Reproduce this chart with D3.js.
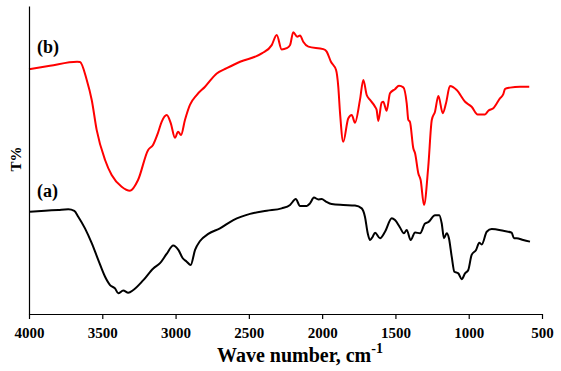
<!DOCTYPE html>
<html>
<head>
<meta charset="utf-8">
<script src="https://cdn.jsdelivr.net/npm/d3@7"></script>
<style>
  html, body { margin: 0; padding: 0; background: #fff; }
  svg { display: block; }
</style>
</head>
<body>
<svg id="chart" width="561" height="371"></svg>
<script>
// ---- data ----
const xTicks = [4000, 3500, 3000, 2500, 2000, 1500, 1000, 500];
const seriesNames = ["(a)", "(b)"];

// sample (b), red: wavenumber (cm-1) and transmittance (arbitrary, offset)
const waveB = [4000,3857,3672,3652,3606,3572,3538,3481,3436,3368,3311,3256,3188,3154,3120,3095,3060,3033,3004,2983,2963,2936,2902,2856,2799,2719,2651,2560,2412,2344,2310,2276,2242,2219,2197,2170,2151,2129,2094,1992,1969,1940,1905,1890,1878,1856,1822,1798,1776,1742,1719,1696,1673,1639,1628,1617,1594,1583,1560,1537,1503,1476,1446,1423,1412,1401,1378,1366,1344,1328,1305,1276,1252,1230,1207,1177,1155,1128,1082,1025,980,939,889,866,832,787,764,752,718,650,587];
const transB = [79.5,80.6,81.9,81.8,76.0,69.5,59.7,50.0,45.1,41.3,40.0,43.5,53.2,54.9,58.8,62.4,64.6,62.0,57.2,59.2,58.1,63.0,67.9,71.1,73.8,78.1,79.8,81.9,84.6,87.3,90.6,85.9,86.3,87.3,91.5,90.0,90.4,88.4,86.8,86.0,85.2,81.9,79.2,73.8,65.3,55.9,63.5,64.6,62.1,69.5,76.0,71.1,69.5,67.3,66.2,62.7,68.6,68.9,66.0,71.7,73.0,74.1,73.6,68.4,63.0,62.4,53.8,52.2,45.7,43.5,35.4,47.8,63.0,65.7,70.8,65.2,68.4,74.0,72.7,68.9,67.3,64.8,64.8,66.0,66.8,70.0,71.4,73.1,73.5,73.8,73.8];

// sample (a), black
const waveA = [3993,3891,3800,3732,3691,3664,3618,3572,3527,3481,3447,3413,3391,3357,3323,3288,3220,3152,3106,3061,3016,2981,2951,2924,2897,2867,2833,2777,2697,2606,2492,2378,2276,2219,2180,2151,2105,2083,2056,2026,2003,1974,1935,1856,1776,1730,1708,1689,1673,1655,1639,1605,1571,1525,1503,1469,1442,1423,1396,1366,1332,1298,1276,1230,1201,1184,1169,1150,1135,1116,1098,1071,1048,1025,1003,980,950,928,911,877,843,764,707,691,673,628,582];
const transA = [33.2,33.5,33.8,34.0,33.5,31.6,27.8,23.0,17.5,12.1,9.4,8.3,6.7,7.6,6.9,7.8,11.0,14.8,16.5,19.5,22.2,20.8,18.1,17.0,15.9,20.8,23.7,26.0,27.8,30.5,32.5,33.5,34.3,35.4,37.3,35.1,35.1,35.9,37.8,37.2,37.3,36.5,35.7,35.4,35.2,34.3,31.6,26.2,24.0,25.1,26.4,24.6,26.7,31.1,30.5,28.1,26.2,27.3,24.0,26.5,26.2,29.4,29.8,32.1,32.1,29.4,24.6,26.2,24.6,18.6,13.7,13.2,11.3,13.2,14.3,19.2,20.8,23.1,22.6,26.7,27.6,27.0,26.4,24.6,24.6,24.0,23.5];

// ---- drawing ----
const svg = d3.select("#chart");
const x = d3.scaleLinear().domain([4000, 500]).range([29, 542]);
const y = d3.scaleLinear().domain([0, 100]).range([314, 6]);

const font = "'Liberation Serif', 'Times New Roman', serif";

const line = d3.line()
  .x(d => x(d[0]))
  .y(d => y(d[1]))
  .curve(d3.curveMonotoneX);

const dataA = waveA.map((w, i) => [w, transA[i]]);
const dataB = waveB.map((w, i) => [w, transB[i]]);

svg.append("path").datum(dataB)
  .attr("fill", "none").attr("stroke", "#ff0000").attr("stroke-width", 2)
  .attr("stroke-linejoin", "round")
  .attr("d", line);

svg.append("path").datum(dataA)
  .attr("fill", "none").attr("stroke", "#000000").attr("stroke-width", 2)
  .attr("stroke-linejoin", "round")
  .attr("d", line);

// x axis
const xAxis = d3.axisBottom(x)
  .tickValues(xTicks)
  .tickFormat(d3.format("d"))
  .tickSize(5)
  .tickSizeOuter(0)
  .tickPadding(8);

const gx = svg.append("g").attr("transform", "translate(0,314)").call(xAxis);
gx.select(".domain").attr("stroke", "#000").attr("stroke-width", 1.2);
gx.selectAll(".tick line").attr("stroke", "#000").attr("stroke-width", 1.2);
gx.selectAll(".tick text")
  .attr("fill", "#000")
  .style("font-family", font)
  .style("font-weight", "bold")
  .style("font-size", "15px");

// y axis (no ticks)
const yAxis = d3.axisLeft(y).tickValues([]).tickSizeOuter(0);
const gy = svg.append("g").attr("transform", "translate(29,0)").call(yAxis);
gy.select(".domain").attr("stroke", "#000").attr("stroke-width", 1.2);

// axis titles
const xt = svg.append("text")
  .attr("x", 217).attr("y", 362)
  .style("font-family", font).style("font-weight", "bold").style("font-size", "20px")
  .attr("fill", "#000");
xt.append("tspan").text("Wave number, cm");
xt.append("tspan").attr("dy", -9).style("font-size", "14px").text("-1");

svg.append("text")
  .attr("transform", "translate(21,159) rotate(-90)")
  .attr("text-anchor", "middle")
  .style("font-family", font).style("font-weight", "bold").style("font-size", "15px")
  .attr("fill", "#000")
  .text("T%");

// series labels
const labelPos = [[37, 197], [37, 53]];
svg.selectAll("text.series").data(seriesNames).enter().append("text")
  .attr("class", "series")
  .attr("x", (d, i) => labelPos[i][0])
  .attr("y", (d, i) => labelPos[i][1])
  .style("font-family", font).style("font-weight", "bold").style("font-size", "18px")
  .attr("fill", "#000")
  .text(d => d);
</script>
</body>
</html>
